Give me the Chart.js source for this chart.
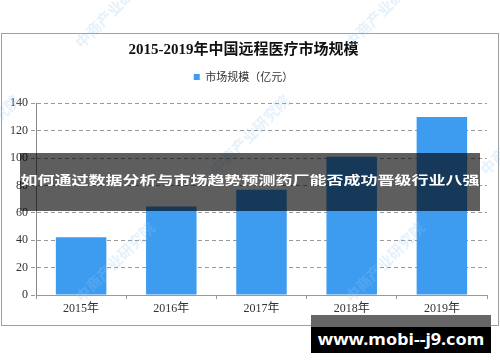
<!DOCTYPE html>
<html>
<head>
<meta charset="utf-8">
<script src="https://cdn.jsdelivr.net/npm/chart.js@4/dist/chart.umd.min.js"></script>
<style>
  body { margin: 0; background: #fff; }
  #wrap { position: relative; width: 500px; height: 362px; overflow: hidden; }
  #banner {
    position: absolute; left: 20px; top: 153px; width: 460px; height: 58px;
    background: rgba(0,0,0,0.63); color: #fff;
    font: bold 17px "Noto Sans CJK SC", sans-serif;
    display: flex; align-items: center; justify-content: center; white-space: nowrap;
  }
  #banner span { display: inline-block; transform: scaleY(0.72); margin-top: -6px; }
  #site {
    position: absolute; left: 311px; top: 315px; width: 180px; height: 38px;
    background: linear-gradient(#666 0 12px, #000 12px 100%); color: #fff;
    font: bold 18px "Noto Sans", sans-serif;
    display: flex; align-items: center; justify-content: center; padding-top: 10px; box-sizing: border-box;
  }
  #site span { display: inline-block; transform: scaleY(0.85); }
</style>
</head>
<body>
<div id="wrap">
  <canvas id="chart" width="500" height="362"></canvas>
  <div id="banner"><span>如何通过数据分析与市场趋势预测药厂能否成功晋级行业八强</span></div>
  <div id="site"><span>www.mobi--j9.com</span></div>
</div>
<script>
const years = ['2015年', '2016年', '2017年', '2018年', '2019年']
const marketSize = [42.2, 64.6, 76.8, 101, 130]
const seriesName = '市场规模（亿元）'
const chartTitle = '2015-2019年中国远程医疗市场规模'

// outer frame + faint watermark
const frame = {
  id: 'frame',
  beforeDraw(c) {
    const ctx = c.ctx
    ctx.save()
    ctx.strokeStyle = '#a0a0a0'; ctx.lineWidth = 1
    ctx.strokeRect(1.5, 33.5, 497, 292)
    ctx.restore()
  },
  afterDraw(c) {
    const ctx = c.ctx
    const spots = [[115, 8], [385, 8], [-20, 135], [250, 135], [520, 135], [115, 262], [385, 262]]
    ctx.save()
    ctx.font = 'bold 15px "Noto Sans CJK SC"'
    ctx.textAlign = 'center'; ctx.textBaseline = 'middle'
    spots.forEach(([x, y]) => {
      ctx.save()
      ctx.translate(x, y); ctx.rotate(-Math.PI / 4)
      ctx.fillStyle = 'rgba(150,200,240,0.25)'
      ctx.fillText('中商产业研究院', 0, 0)
      ctx.restore()
    })
    ctx.restore()
  }
}

new Chart(document.getElementById('chart'), {
  type: 'bar',
  data: {
    labels: years,
    datasets: [{
      label: seriesName,
      data: marketSize,
      xAxisID: 'x',
      backgroundColor: '#3d9cf0',
      borderWidth: 0,
      barPercentage: 0.56,
      categoryPercentage: 1
    }]
  },
  options: {
    responsive: false, animation: false, devicePixelRatio: 1,
    layout: { padding: { left: 0, right: 13, top: 0, bottom: 45 } },
    plugins: {
      title: {
        display: true, text: chartTitle, color: '#111',
        font: { family: '"Liberation Serif", "Noto Sans CJK SC", serif', size: 15, weight: 'bold' },
        padding: { top: 41.5, bottom: 0 }
      },
      legend: {
        labels: {
          boxWidth: 6, boxHeight: 6, padding: 12, color: '#333',
          font: { family: '"Noto Sans CJK SC", sans-serif', size: 11 }
        }
      },
      tooltip: { enabled: false }
    },
    scales: {
      x: {
        offset: true,
        grid: { display: true, drawOnChartArea: false, offset: true, tickLength: 4, color: '#999' },
        border: { color: '#999' },
        ticks: { color: '#333', padding: 3, font: { family: '"Liberation Serif", "Noto Sans CJK SC", serif', size: 12 } },
        afterFit: s => { s.height = 22 }
      },
      // empty spacer between legend and plot
      xTop: {
        axis: 'x', position: 'top',
        grid: { display: false }, border: { display: false }, ticks: { display: false },
        afterFit: s => { s.height = 10.8 }
      },
      y: {
        min: 0, max: 140,
        grid: { color: '#999', tickLength: 5, borderDash: [4, 3], tickBorderDash: [4, 3] },
        border: { color: '#888', dash: [4, 3] },
        ticks: { stepSize: 20, color: '#333', padding: 3, font: { family: '"Liberation Serif", serif', size: 12 } },
        afterFit: s => { s.width = 36 }
      }
    }
  },
  plugins: [frame]
})
</script>
</body>
</html>
